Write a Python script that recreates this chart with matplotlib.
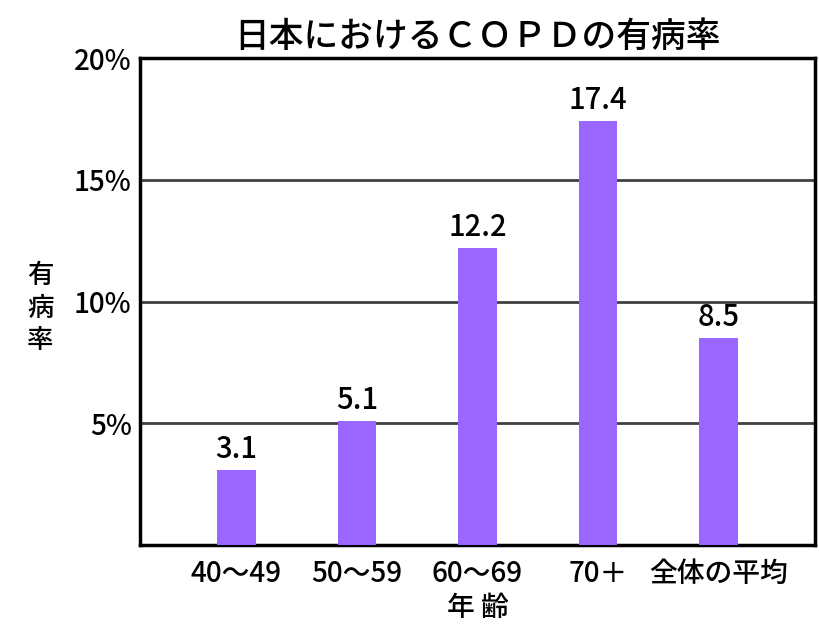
import numpy as np
import matplotlib
matplotlib.use('Agg')
import matplotlib.pyplot as plt

plt.rcParams['font.family'] = ['Noto Sans CJK JP', 'DejaVu Sans']

# データ
categories = ['40～49', '50～59', '60～69', '70＋', '全体の平均']
values = [3.1, 5.1, 12.2, 17.4, 8.5]
yticks = [5, 10, 15, 20]
ytick_labels = ['5%', '10%', '15%', '20%']

fig = plt.figure(figsize=(8.19, 6.25), dpi=100)
ax = fig.add_axes([140/819, 80/625, 675/819, 487/625])

x = np.arange(len(categories))
ax.bar(x, values, width=0.32, color='#9966ff', zorder=3)

# 値ラベル
for xi, v in zip(x, values):
    ax.text(xi, v + 0.2, f'{v:.1f}', ha='center', va='bottom', fontsize=21,
            color='black', zorder=4, fontweight='medium')

ax.set_xlim(-0.8, 4.8)
ax.set_ylim(0, 20)
ax.set_yticks(yticks)
ax.set_yticklabels(ytick_labels, fontsize=20, fontweight='medium')
ax.set_xticks(x)
ax.set_xticklabels(categories, fontsize=20, fontweight='medium')
ax.tick_params(length=0, pad=6)
ax.tick_params(axis='x', pad=10)

# グリッド
for yv in yticks[:-1]:
    ax.axhline(yv, color='#404040', linewidth=2, zorder=1)

for s in ax.spines.values():
    s.set_linewidth(2.5)
    s.set_color('black')

ax.set_title('日本におけるＣＯＰＤの有病率', fontsize=25, pad=8, fontweight='medium')
ax.set_xlabel('年 齢', fontsize=20, labelpad=4, fontweight='medium')
fig.text(40/819, 1 - 308/625, '有\n病\n率', fontsize=19, ha='center', va='center',
         linespacing=1.25, fontweight='medium')

fig.savefig('out.png', dpi=100)
